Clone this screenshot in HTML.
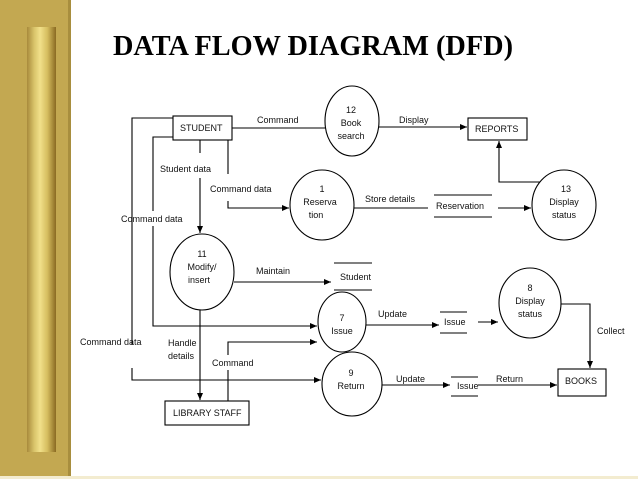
<!DOCTYPE html>
<html><head><meta charset="utf-8"><style>
html,body{margin:0;padding:0;background:#fff;}
body{width:638px;height:479px;overflow:hidden;position:relative;}
.band{position:absolute;left:0;top:0;width:70px;height:479px;background:#c3a851;}
.edge{position:absolute;left:68px;top:0;width:3px;height:479px;background:#a88e3e;}
.pillar{position:absolute;left:27px;top:27px;width:29px;height:425px;background:linear-gradient(90deg,#a88a3c 0%,#d9c46a 25%,#f1e08a 45%,#d6be60 70%,#8a6a22 100%);}
.bottom{position:absolute;left:0;top:476px;width:638px;height:3px;background:#f3ecd0;}
svg{position:absolute;left:0;top:0;}
text{font-family:"Liberation Sans",sans-serif;font-size:9px;fill:#111;}
</style></head><body>
<div class="band"></div><div class="edge"></div><div class="pillar"></div><div class="bottom"></div>
<svg width="638" height="479" viewBox="0 0 638 479">
<defs><marker id="a" markerWidth="8" markerHeight="6" refX="7" refY="3" orient="auto" markerUnits="userSpaceOnUse"><path d="M0,0 L7,3 L0,6z" fill="#000"/></marker></defs>
<text x="113" y="55" textLength="400" lengthAdjust="spacingAndGlyphs" style="font-family:'Liberation Serif',serif;font-size:29px;font-weight:bold;fill:#000">DATA FLOW DIAGRAM (DFD)</text>
<g stroke="#000" stroke-width="1.1" fill="none">
<rect x="173" y="116" width="59" height="24"/>
<rect x="468" y="118" width="59" height="22"/>
<rect x="165" y="401" width="84" height="24"/>
<rect x="558" y="369" width="48" height="27"/>
<ellipse cx="352" cy="121" rx="27" ry="35"/>
<ellipse cx="322" cy="205" rx="32" ry="35"/>
<ellipse cx="564" cy="205" rx="32" ry="35"/>
<ellipse cx="202" cy="272" rx="32" ry="38"/>
<ellipse cx="342" cy="322" rx="24" ry="30"/>
<ellipse cx="530" cy="303" rx="31" ry="35"/>
<ellipse cx="352" cy="384" rx="30" ry="32"/>
<path d="M173,118 H132 V345 M132,368 V380 H321" marker-end="url(#a)"/>
<path d="M173,137 H153 V211 M153,226 V326 H317" marker-end="url(#a)"/>
<path d="M200,140 V153 M200,178 V233" marker-end="url(#a)"/>
<path d="M228,140 V174 M228,201 V208 H289" marker-end="url(#a)"/>
<path d="M232,128 H325"/>
<path d="M379,127 H467" marker-end="url(#a)"/>
<path d="M354,208 H428"/>
<path d="M434,195 H492 M434,217 H492"/>
<path d="M498,208 H531" marker-end="url(#a)"/>
<path d="M540,182 H499 V141" marker-end="url(#a)"/>
<path d="M234,282 H331" marker-end="url(#a)"/>
<path d="M334,263 H372 M334,290 H372"/>
<path d="M200,310 V400" marker-end="url(#a)"/>
<path d="M228,401 V370 M228,355 V342 H317" marker-end="url(#a)"/>
<path d="M366,325 H439" marker-end="url(#a)"/>
<path d="M440,312 H467 M440,333 H467"/>
<path d="M478,322 H498" marker-end="url(#a)"/>
<path d="M561,304 H590 V368" marker-end="url(#a)"/>
<path d="M382,385 H450" marker-end="url(#a)"/>
<path d="M451,377 H478 M451,396 H478"/>
<path d="M478,385 H557" marker-end="url(#a)"/>
</g>
<text x="180" y="131">STUDENT</text>
<text x="475" y="132">REPORTS</text>
<text x="173" y="416">LIBRARY STAFF</text>
<text x="565" y="384">BOOKS</text>
<text x="257" y="123">Command</text>
<text x="399" y="123">Display</text>
<text x="160" y="172">Student data</text>
<text x="210" y="192">Command data</text>
<text x="121" y="222">Command data</text>
<text x="80" y="345">Command data</text>
<text x="365" y="202">Store details</text>
<text x="436" y="209">Reservation</text>
<text x="256" y="274">Maintain</text>
<text x="340" y="280">Student</text>
<text x="168" y="346">Handle</text>
<text x="168" y="359">details</text>
<text x="212" y="366">Command</text>
<text x="378" y="317">Update</text>
<text x="444" y="325">Issue</text>
<text x="597" y="334">Collect</text>
<text x="396" y="382">Update</text>
<text x="457" y="389">Issue</text>
<text x="496" y="382">Return</text>
<g text-anchor="middle">
<text x="351" y="113">12</text><text x="351" y="126">Book</text><text x="351" y="139">search</text>
<text x="322" y="192">1</text><text x="320" y="205">Reserva</text><text x="316" y="218">tion</text>
<text x="566" y="192">13</text><text x="564" y="205">Display</text><text x="564" y="218">status</text>
<text x="202" y="257">11</text><text x="202" y="270">Modify/</text><text x="199" y="283">insert</text>
<text x="342" y="321">7</text><text x="342" y="334">Issue</text>
<text x="530" y="291">8</text><text x="530" y="304">Display</text><text x="530" y="317">status</text>
<text x="351" y="376">9</text><text x="351" y="389">Return</text>
</g>
</svg>
</body></html>
